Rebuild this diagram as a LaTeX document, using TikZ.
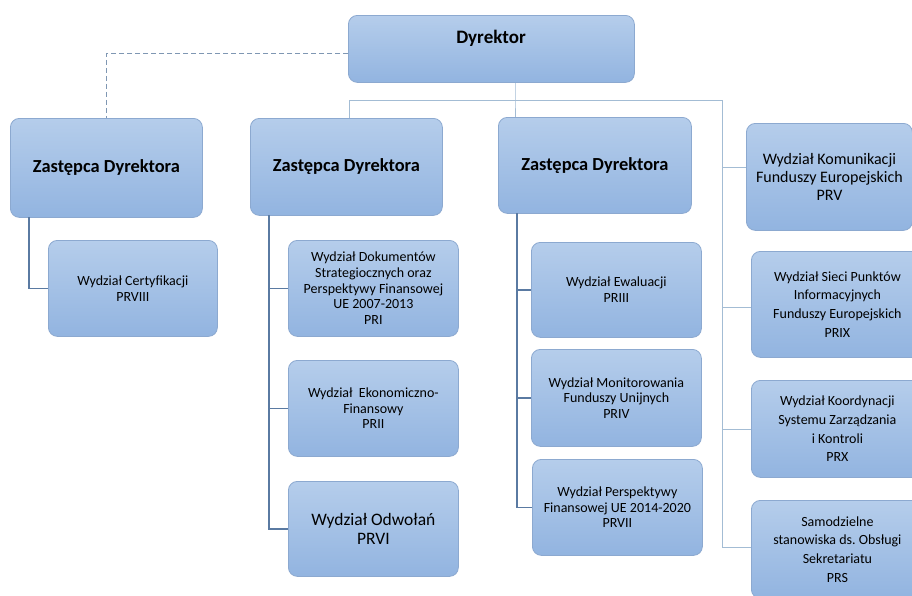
\documentclass[tikz,border=0pt]{standalone}
\usepackage{fontspec}
\setmainfont{Carlito}
\frenchspacing
\definecolor{boxtop}{HTML}{B5CDEB}
\definecolor{boxbot}{HTML}{92B4E0}
\definecolor{boxline}{HTML}{8CA9D0}
\definecolor{thick}{HTML}{5A7AA2}
\definecolor{thinl}{HTML}{A3BCD4}
\definecolor{dashc}{HTML}{7F97B3}
\tikzset{
  box/.style={draw=boxline, line width=0.8pt, top color=boxtop, bottom color=boxbot,
    rounded corners=9pt, anchor=north west, inner sep=0pt, align=center, text=black},
  head/.style={font=\fontsize{18.4}{21}\selectfont\bfseries},
  small/.style={font=\fontsize{14}{15.7}\selectfont},
  right/.style={font=\fontsize{14}{18.8}\selectfont},
  big/.style={font=\fontsize{17.5}{19.5}\selectfont},
  thickc/.style={draw=thick, line width=1.8pt},
  thinc/.style={draw=thinl, line width=1pt},
  dashl/.style={draw=dashc, line width=1pt, dashed, dash pattern=on 5pt off 3pt},
}
\begin{document}
\begin{tikzpicture}[x=1pt,y=-1pt]
\useasboundingbox (0,0) rectangle (912,595);
\clip (0,0) rectangle (912,595);
\fill[white] (0,0) rectangle (912,595);
% boxes
\node[box, minimum width=286pt, minimum height=67pt] (dyr) at (348,15) {};
\node[font=\fontsize{19}{21}\selectfont\bfseries] (dyrt) at (491,38) {Dyrektor};
\node[box, head, minimum width=192pt, minimum height=99pt] (zd1) at (10,118) {Zastępca Dyrektora};
\node[box, head, minimum width=192pt, minimum height=97pt] (zd2) at (250,118) {Zastępca Dyrektora};
\node[box, head, minimum width=193pt, minimum height=96pt] (zd3) at (498,117) {Zastępca Dyrektora};
\node[box, font=\fontsize{16}{18}\selectfont, minimum width=166pt, minimum height=107pt] (prv) at (746,123) {Wydział Komunikacji\\Funduszy Europejskich\\PRV};
\node[box, small, minimum width=169pt, minimum height=96pt] (prviii) at (48,240) {Wydział Certyfikacji\\PRVIII};
\node[box, small, minimum width=170pt, minimum height=96pt] (pri) at (288,240) {Wydział Dokumentów\\Strategiocznych oraz\\Perspektywy Finansowej\\UE 2007-2013\\PRI};
\node[box, small, minimum width=170pt, minimum height=96pt] (prii) at (288,360) {Wydział \ Ekonomiczno-\\Finansowy\\PRII};
\node[box, big, minimum width=170pt, minimum height=95pt] (prvi) at (288,481) {Wydział Odwołań\\PRVI};
\node[box, small, minimum width=170pt, minimum height=95pt] (priii) at (531,242) {Wydział Ewaluacji\\PRIII};
\node[box, small, minimum width=170pt, minimum height=97pt] (priv) at (531,349) {Wydział Monitorowania\\Funduszy Unijnych\\PRIV};
\node[box, small, minimum width=170pt, minimum height=96pt] (prvii) at (532,459) {Wydział Perspektywy\\Finansowej UE 2014-2020\\PRVII};
\node[box, right, minimum width=172pt, minimum height=106pt] (prix) at (751,251) {Wydział Sieci Punktów\\Informacyjnych\\Funduszy Europejskich\\PRIX};
\node[box, right, minimum width=172pt, minimum height=97pt] (prx) at (751,380) {Wydział Koordynacji\\Systemu Zarządzania\\i Kontroli\\PRX};
\node[box, right, minimum width=172pt, minimum height=98pt] (prs) at (751,500) {Samodzielne\\stanowiska ds. Obsługi\\Sekretariatu\\PRS};
% connectors from Dyrektor
\draw[dashl] ([yshift=-4.5pt]dyr.west) -| (zd1.north);
\coordinate (hub) at (515,100);
\coordinate (tl) at (349,100);
\coordinate (tr) at (722,100);
\coordinate (brv) at (722,167);
\coordinate (brix) at (722,307);
\coordinate (brx) at (722,429);
\coordinate (brs) at (722,547);
\draw[thinc] (hub |- dyr.south) -- (hub) -- (hub |- zd3.north);
\draw[thinc] (tl |- zd2.north) -- (tl) -- (tr) -- (brs);
\draw[thinc] (brv) -- (brv -| prv.west);
\draw[thinc] (brix) -- (brix -| prix.west);
\draw[thinc] (brx) -- (brx -| prx.west);
\draw[thinc] (brs) -- (brs -| prs.west);
% deputy 1
\coordinate (l1) at (29,217);
\draw[thickc] (l1) |- (prviii.west);
% deputy 2
\coordinate (l2) at (269,215);
\draw[thickc] (l2) |- (prvi.west);
\draw[thickc] (l2 |- pri.west) -- (pri.west);
\draw[thickc] (l2 |- prii.west) -- (prii.west);
% deputy 3
\coordinate (l3) at (517,213);
\draw[thickc] (l3) |- (prvii.west);
\draw[thickc] (l3 |- priii.west) -- (priii.west);
\draw[thickc] (l3 |- priv.west) -- (priv.west);
\end{tikzpicture}
\end{document}
